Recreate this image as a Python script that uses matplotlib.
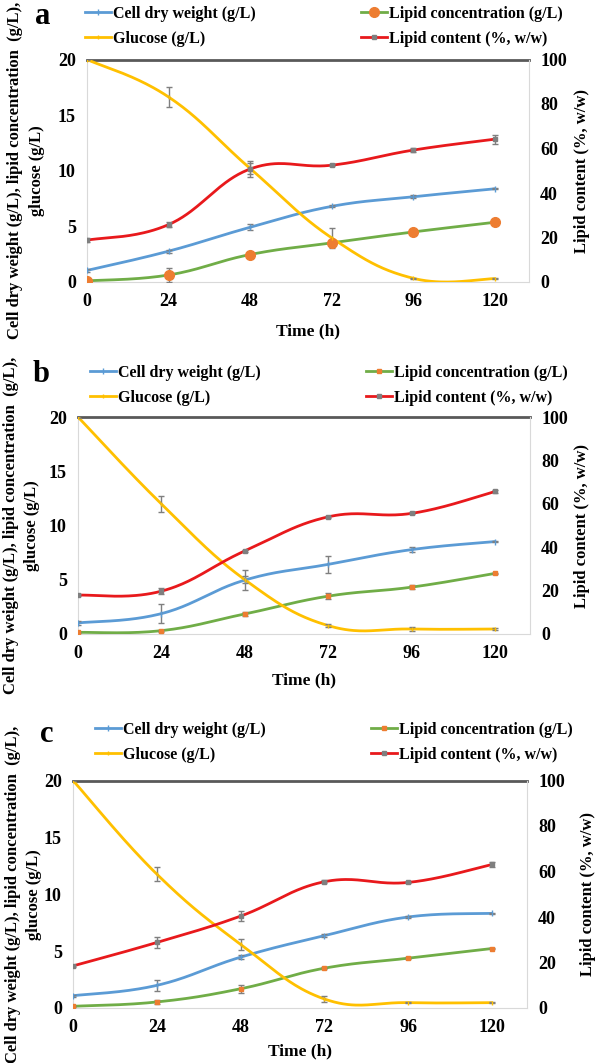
import numpy as np
import matplotlib
matplotlib.use("Agg")
import matplotlib.pyplot as plt

plt.rcParams['font.family'] = ['Liberation Serif', 'DejaVu Serif']
plt.rcParams['font.weight'] = 'bold'

time_h = [0, 24, 48, 72, 96, 120]
x_ticks = [0, 24, 48, 72, 96, 120]
left_ticks = [0, 5, 10, 15, 20]
right_ticks = [0, 20, 40, 60, 80, 100]

# Panel a
a_cdw = [1.04, 2.77, 4.92, 6.80, 7.66, 8.38]
a_cdw_err = [0.15, 0.15, 0.25, 0.1, 0.15, 0.05]
a_lipid = [0.10, 0.63, 2.47, 3.52, 4.50, 5.37]
a_lipid_err = [0.05, 0.6, 0.2, 0.1, 0.1, 0.05]
a_glucose = [20.0, 16.63, 10.2, 3.96, 0.33, 0.30]
a_glucose_err = [0.05, 0.9, 0.5, 0.9, 0.05, 0.05]
a_content = [18.8, 25.8, 50.8, 52.5, 59.3, 64.2]
a_content_err = [0.8, 1.0, 3.5, 0.5, 1.0, 2.0]

# Panel b
b_cdw = [1.02, 1.88, 4.97, 6.42, 7.78, 8.52]
b_cdw_err = [0.15, 0.9, 0.9, 0.8, 0.2, 0.05]
b_lipid = [0.15, 0.31, 1.85, 3.49, 4.32, 5.59]
b_lipid_err = [0.05, 0.1, 0.2, 0.3, 0.2, 0.05]
b_glucose = [20.0, 11.98, 5.0, 0.77, 0.46, 0.46]
b_glucose_err = [0.05, 0.7, 0.3, 0.15, 0.2, 0.05]
b_content = [17.9, 19.75, 38.3, 54.0, 55.6, 65.7]
b_content_err = [0.6, 1.3, 0.5, 0.5, 0.5, 0.8]

# Panel c
c_cdw = [1.08, 1.99, 4.47, 6.36, 8.00, 8.32]
c_cdw_err = [0.1, 0.5, 0.2, 0.15, 0.1, 0.05]
c_lipid = [0.15, 0.53, 1.69, 3.50, 4.38, 5.23]
c_lipid_err = [0.05, 0.15, 0.35, 0.1, 0.1, 0.05]
c_glucose = [20.0, 11.77, 5.60, 0.79, 0.47, 0.47]
c_glucose_err = [0.05, 0.6, 0.5, 0.25, 0.05, 0.05]
c_content = [18.5, 28.8, 40.4, 55.5, 55.2, 63.1]
c_content_err = [0.5, 2.5, 2.3, 0.6, 0.4, 1.0]

labels = ["Cell dry weight (g/L)", "Glucose (g/L)",
          "Lipid concentration (g/L)", "Lipid content (%, w/w)"]
left_label_1 = "Cell dry weight (g/L), lipid concentration  (g/L),"
left_label_2 = "glucose (g/L)"

BLUE = '#5B9BD5'
ORANGE = '#ED7D31'
GREEN = '#70AD47'
YELLOW = '#FFC000'
RED = '#E8191C'
ERR = '#7F7F7F'

W, H = 602, 1063
fig = plt.figure(figsize=(W / 100, H / 100), dpi=100)


def smooth(x, y, n=40, k=5.0):
    """Excel-style smoothed line (Bezier) through the points."""
    x = np.asarray(x, float)
    y = np.asarray(y, float)
    px = np.concatenate([[x[0]], x, [x[-1]]])
    py = np.concatenate([[y[0]], y, [y[-1]]])
    xs, ys = [], []
    t = np.linspace(0, 1, n)
    for i in range(1, len(px) - 2):
        p0 = np.array([px[i], py[i]])
        p3 = np.array([px[i + 1], py[i + 1]])
        p1 = p0 + (np.array([px[i + 1], py[i + 1]]) - np.array([px[i - 1], py[i - 1]])) / k
        p2 = p3 - (np.array([px[i + 2], py[i + 2]]) - np.array([px[i], py[i]])) / k
        b = ((1 - t) ** 3)[:, None] * p0 + (3 * (1 - t) ** 2 * t)[:, None] * p1 + \
            (3 * (1 - t) * t ** 2)[:, None] * p2 + (t ** 3)[:, None] * p3
        xs.append(b[:, 0])
        ys.append(b[:, 1])
    return np.concatenate(xs), np.concatenate(ys)


def series(ax, y, err, color, marker, ms, mfc, mec):
    sx, sy = smooth(time_h, y)
    ax.plot(sx, sy, color=color, lw=2, zorder=3, solid_capstyle='round')
    ax.errorbar(time_h, y, yerr=err, fmt='none', ecolor=ERR, elinewidth=1,
                capsize=2.5, capthick=1, zorder=4)
    ax.plot(time_h, y, linestyle='none', marker=marker, ms=ms, mfc=mfc,
            mec=mec, zorder=5)
    h, = ax.plot([], [], color=color, lw=2, marker=marker, ms=ms, mfc=mfc, mec=mec)
    return h


def panel(box, letter, cdw, cdw_e, lip, lip_e, glu, glu_e, con, con_e,
          big_orange, ylab_x, yr_x, time_y, leg_y, leg_x, letter_xy):
    l, r, t, b = box
    ax = fig.add_axes([l / W, 1 - b / H, (r - l) / W, (b - t) / H])
    ax2 = ax.twinx()
    ax.set_xlim(0, 130)
    ax.set_ylim(0, 20)
    ax2.set_ylim(0, 100)
    ax.set_xticks(x_ticks)
    ax.set_yticks(left_ticks)
    ax2.set_yticks(right_ticks)
    for a in (ax, ax2):
        a.tick_params(length=0, labelsize=13, pad=8)
        for s in a.spines.values():
            s.set_visible(False)
    ax.spines['left'].set_visible(True)
    ax.spines['left'].set_color('#D9D9D9')
    ax.spines['bottom'].set_visible(True)
    ax.spines['bottom'].set_color('#D9D9D9')
    ax.spines['top'].set_visible(True)
    ax.spines['top'].set_color('#595959')
    ax.spines['top'].set_linewidth(2)
    ax2.spines['right'].set_visible(True)
    ax2.spines['right'].set_color('#D9D9D9')
    for lab in ax.get_xticklabels() + ax.get_yticklabels() + ax2.get_yticklabels():
        lab.set_fontweight('bold')

    h1 = series(ax, cdw, cdw_e, BLUE, '|', 4, BLUE, BLUE)
    if big_orange:
        h3 = series(ax, lip, lip_e, GREEN, 'o', 7, ORANGE, ORANGE)
    else:
        h3 = series(ax, lip, lip_e, GREEN, 's', 2.5, ORANGE, ORANGE)
    h2 = series(ax, glu, glu_e, YELLOW, '|', 3, YELLOW, YELLOW)
    h4 = series(ax2, con, con_e, RED, 's', 2.5, ERR, ERR)

    ax.legend([h1, h2, h3, h4], labels, ncol=2, frameon=False,
              loc='upper left',
              bbox_to_anchor=(leg_x / W, 1 - leg_y / H),
              bbox_transform=fig.transFigure,
              prop={'family': 'Liberation Serif', 'weight': 'bold', 'size': 11.5},
              handlelength=1.65, handletextpad=0.1, columnspacing=6.6,
              labelspacing=0.55, borderaxespad=0, borderpad=0)

    yc = 1 - ((t + b) / 2) / H
    fig.text(ylab_x[0] / W, yc, left_label_1, rotation=90, ha='center',
             va='center', fontsize=12, fontweight='bold')
    fig.text(ylab_x[1] / W, yc, left_label_2, rotation=90, ha='center',
             va='center', fontsize=12, fontweight='bold')
    fig.text(yr_x / W, yc, "Lipid content (%, w/w)",
             rotation=90, ha='center', va='center', fontsize=12, fontweight='bold')
    fig.text(((l + r) / 2) / W, 1 - time_y / H, "Time (h)", ha='center',
             va='center', fontsize=12.5, fontweight='bold')
    fig.text(letter_xy[0] / W, 1 - letter_xy[1] / H, letter, ha='center',
             va='center', fontsize=22, fontweight='bold')


panel((87, 529, 59.5, 282), 'a', a_cdw, a_cdw_err, a_lipid, a_lipid_err,
      a_glucose, a_glucose_err, a_content, a_content_err, True,
      (15, 37), 582, 331, 6, 85, (43, 16))
panel((78, 530, 417, 634), 'b', b_cdw, b_cdw_err, b_lipid, b_lipid_err,
      b_glucose, b_glucose_err, b_content, b_content_err, False,
      (11, 32), 582, 680, 365, 90, (41, 374))
panel((73, 527, 780.5, 1008), 'c', c_cdw, c_cdw_err, c_lipid, c_lipid_err,
      c_glucose, c_glucose_err, c_content, c_content_err, False,
      (13, 34), 588, 1051, 722, 95, (47, 734))

fig.savefig('out.png', dpi=100)
